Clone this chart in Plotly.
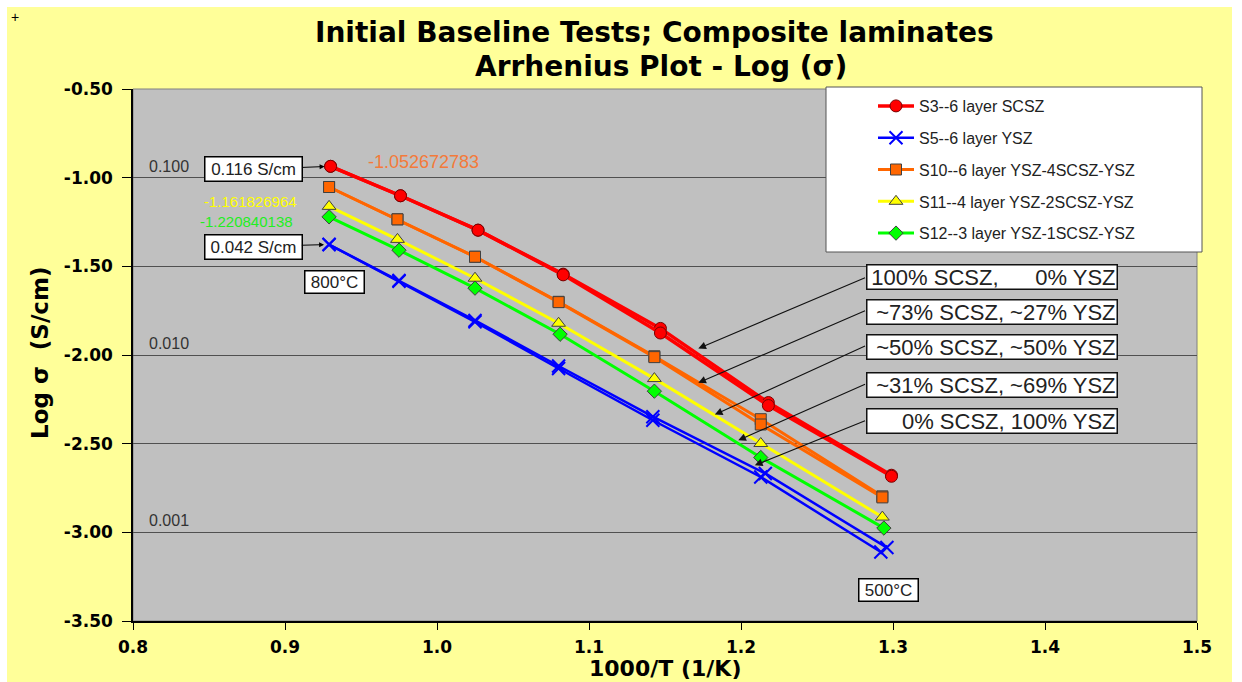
import plotly.graph_objects as go

# ---------------- data ----------------
red_x = [0.930, 0.976, 1.027, 1.083, 1.147, 1.218, 1.299]
red_y = [-0.936, -1.102, -1.296, -1.544, -1.850, -2.268, -2.678]
red2_y = [-0.936, -1.102, -1.296, -1.548, -1.876, -2.285, -2.684]

blue_x = [0.929, 0.975, 1.025, 1.080, 1.142, 1.213, 1.292]
blue_y = [-1.377, -1.584, -1.813, -2.076, -2.368, -2.688, -3.111]
blue2_x = [0.929, 0.975, 1.025, 1.080, 1.142, 1.216, 1.296]
blue2_y = [-1.377, -1.580, -1.805, -2.062, -2.348, -2.668, -3.086]

orange_x = [0.929, 0.974, 1.025, 1.080, 1.143, 1.213, 1.293]
orange_y = [-1.052672783, -1.235, -1.446, -1.700, -2.007, -2.362, -2.797]
orange2_y = [-1.052672783, -1.235, -1.446, -1.702, -2.012, -2.392, -2.803]

yellow_x = [0.929, 0.974, 1.025, 1.080, 1.143, 1.213, 1.293]
yellow_y = [-1.161826964, -1.348, -1.567, -1.821, -2.133, -2.499, -2.914]

green_x = [0.929, 0.975, 1.025, 1.081, 1.143, 1.213, 1.294]
green_y = [-1.220840138, -1.409, -1.623, -1.883, -2.204, -2.578, -2.976]

names = ["S3--6 layer SCSZ", "S5--6 layer YSZ", "S10--6 layer YSZ-4SCSZ-YSZ",
         "S11--4 layer YSZ-2SCSZ-YSZ", "S12--3 layer YSZ-1SCSZ-YSZ"]
ratio_labels = ["100% SCSZ,\u00a0\u00a0\u00a0\u00a0\u00a0\u00a00% YSZ",
                "~73% SCSZ, ~27% YSZ",
                "~50% SCSZ, ~50% YSZ",
                "~31% SCSZ, ~69% YSZ",
                "0% SCSZ, 100% YSZ"]
# arrows: (tail_x, tail_y, tip_x, tip_y) in data units
ratio_arrows = [(1.2826, -1.561, 1.1719, -1.963),
                (1.2826, -1.747, 1.1719, -2.157),
                (1.2826, -1.945, 1.1828, -2.336),
                (1.2826, -2.161, 1.1982, -2.481),
                (1.2826, -2.368, 1.2091, -2.622)]
decade_labels = [("0.100", -1.0), ("0.010", -2.0), ("0.001", -3.0)]
x_ticks = [0.8, 0.9, 1.0, 1.1, 1.2, 1.3, 1.4, 1.5]
y_ticks = [-3.5, -3.0, -2.5, -2.0, -1.5, -1.0, -0.5]

# ---------------- layout geometry ----------------
W, H = 1242, 682
L, R, T, B = 133, 1197, 89, 621


def fx(p):
    return (p - L) / (R - L)


def fy(p):
    return (B - p) / (B - T)


ARIAL = "Liberation Sans, Arial, sans-serif"
BOLD = "DejaVu Sans, sans-serif"

fig = go.Figure()


def add(x, y, name, color, lw, symbol, msize, mline, show=True, group=None):
    fig.add_trace(go.Scatter(
        x=x, y=y, name=name, mode="lines+markers", showlegend=show,
        legendgroup=group,
        line=dict(color=color, width=lw),
        marker=dict(symbol=symbol, size=msize, color=color,
                    line=dict(color=mline, width=1 if "x-thin" not in symbol else 2)),
        hoverinfo="skip"))


add(red_x, red_y, names[0], "#ff0000", 3.5, "circle", 12, "#7a0000", True, "g1")
add(red_x, red2_y, names[0], "#ff0000", 3.5, "circle", 12, "#7a0000", False, "g1")
add(blue_x, blue_y, names[1], "#0000ff", 2.5, "x-thin-open", 13, "#0000ff", True, "g2")
add(blue2_x, blue2_y, names[1], "#0000ff", 2.5, "x-thin-open", 13, "#0000ff", False, "g2")
add(orange_x, orange_y, names[2], "#ff6600", 3, "square", 11, "#404040", True, "g3")
add(orange_x, orange2_y, names[2], "#ff6600", 3, "square", 11, "#404040", False, "g3")
add(yellow_x, yellow_y, names[3], "#ffff00", 3, "triangle-up", 12, "#404040", True, "g4")
add(green_x, green_y, names[4], "#00ff00", 3, "diamond", 11, "#404040", True, "g5")

ann = []


def text(t, px, py, font, **kw):
    d = dict(text=t, x=fx(px), y=fy(py), xref="paper", yref="paper", showarrow=False,
             xanchor="center", yanchor="middle", font=font)
    d.update(kw)
    ann.append(d)


bold = lambda s: dict(family=BOLD, size=s, color="black", weight="bold")
# title
text("Initial Baseline Tests; Composite laminates", 654, 33, bold(28))
text("Arrhenius Plot - Log (σ)", 661, 66, bold(28))
# axis titles
text("1000/T (1/K)", 665, 668, bold(22))
text("Log σ\u00a0 (S/cm)", 40, 353, bold(23), textangle=-90)
text("+", 15, 17, dict(family=ARIAL, size=14, color="black"))

# decade labels above grid lines
for txt, yv in decade_labels:
    ann.append(dict(text=txt, x=fx(147), y=yv, xref="paper", yref="y", xanchor="left",
                    yanchor="bottom", yshift=1, showarrow=False,
                    font=dict(family=ARIAL, size=16, color="#333333")))

box = dict(bgcolor="white", bordercolor="black", borderwidth=1.5, borderpad=2)
lab_font = dict(family=ARIAL, size=17, color="#222222")
# value boxes with arrows
ann.append(dict(text="0.116 S/cm", x=red_x[0], y=red_y[0], xref="x", yref="y",
                ax=-77, ay=3, showarrow=True, arrowhead=2, arrowsize=1, arrowwidth=1,
                arrowcolor="black", standoff=6, width=92, height=19, font=lab_font, **box))
ann.append(dict(text="0.042 S/cm", x=blue_x[0], y=blue_y[0], xref="x", yref="y",
                ax=-76, ay=2, showarrow=True, arrowhead=2, arrowsize=1, arrowwidth=1,
                arrowcolor="black", standoff=5, width=92, height=19, font=lab_font, **box))
text("800°C", 334.5, 281.5, lab_font, width=54, height=17, **box)
text("500°C", 888.5, 590, lab_font, width=54, height=17, **box)

# coloured value labels
text(f"{orange_y[0]:.9f}", 423.5, 162, dict(family=ARIAL, size=18, color="#f47a3a"))
text(f"{yellow_y[0]:.9f}", 250.5, 202, dict(family=ARIAL, size=15, color="#ffff00"))
text(f"{green_y[0]:.9f}", 246, 221, dict(family=ARIAL, size=15, color="#22ee22"))

# ratio boxes and arrows
box_y = [277, 312, 347, 384.5, 421.3]
for lab, by in zip(ratio_labels, box_y):
    text(lab, 992, by, dict(family=ARIAL, size=22, color="#222222"),
         width=247, height=21, align="right", bgcolor="white",
         bordercolor="#111111", borderwidth=1.5, borderpad=1)
for tx, ty, hx, hy in ratio_arrows:
    ann.append(dict(text="", x=hx, y=hy, ax=tx, ay=ty, xref="x", yref="y",
                    axref="x", ayref="y", showarrow=True, arrowhead=2, arrowsize=1.4,
                    arrowwidth=1.1, arrowcolor="#111111"))

shapes = [
    # white page margins around the yellow sheet
    dict(type="rect", xref="paper", yref="paper", x0=fx(0), x1=fx(W), y0=fy(0), y1=fy(7),
         fillcolor="white", line=dict(width=0), layer="below"),
    dict(type="rect", xref="paper", yref="paper", x0=fx(0), x1=fx(7), y0=fy(0), y1=fy(H),
         fillcolor="white", line=dict(width=0), layer="below"),
    dict(type="rect", xref="paper", yref="paper", x0=fx(1232), x1=fx(W), y0=fy(0), y1=fy(H),
         fillcolor="white", line=dict(width=0), layer="below"),
    # plot frame
    dict(type="rect", xref="paper", yref="paper", x0=0, x1=1, y0=0, y1=1,
         line=dict(color="#808080", width=1), layer="below"),
    # legend box
    dict(type="rect", xref="paper", yref="paper", x0=fx(826), x1=fx(1202), y0=fy(87), y1=fy(252),
         fillcolor="white", line=dict(color="#555555", width=1), layer="above"),
]

tickfont = dict(family=BOLD, size=17, color="black", weight="bold")
fig.update_layout(
    width=W, height=H,
    margin=dict(l=L, r=W - R, t=T, b=H - B, pad=0),
    paper_bgcolor="#ffff99", plot_bgcolor="#c0c0c0",
    showlegend=True,
    legend=dict(x=fx(873), y=fy(89), xanchor="left", yanchor="top",
                bgcolor="rgba(0,0,0,0)", borderwidth=0, itemwidth=36,
                traceorder="grouped", tracegroupgap=8,
                font=dict(family=ARIAL, size=16, color="#222222")),
    xaxis=dict(range=[0.8, 1.5], tickvals=x_ticks, ticktext=[f"{v:.1f}" for v in x_ticks],
               showgrid=False, zeroline=False, showline=True, linecolor="black", linewidth=1.5,
               ticks="outside", ticklen=7, tickcolor="black", tickfont=tickfont,
               ticklabelstandoff=3),
    yaxis=dict(range=[-3.5, -0.5], tickvals=y_ticks, ticktext=[f"{v:.2f}" for v in y_ticks],
               showgrid=True, gridcolor="#505050", gridwidth=1, zeroline=False,
               showline=True, linecolor="black", linewidth=1.5,
               ticks="outside", ticklen=9, tickcolor="black", tickfont=tickfont,
               ticklabelstandoff=6),
    annotations=ann, shapes=shapes,
)

fig.write_html("out.html")
